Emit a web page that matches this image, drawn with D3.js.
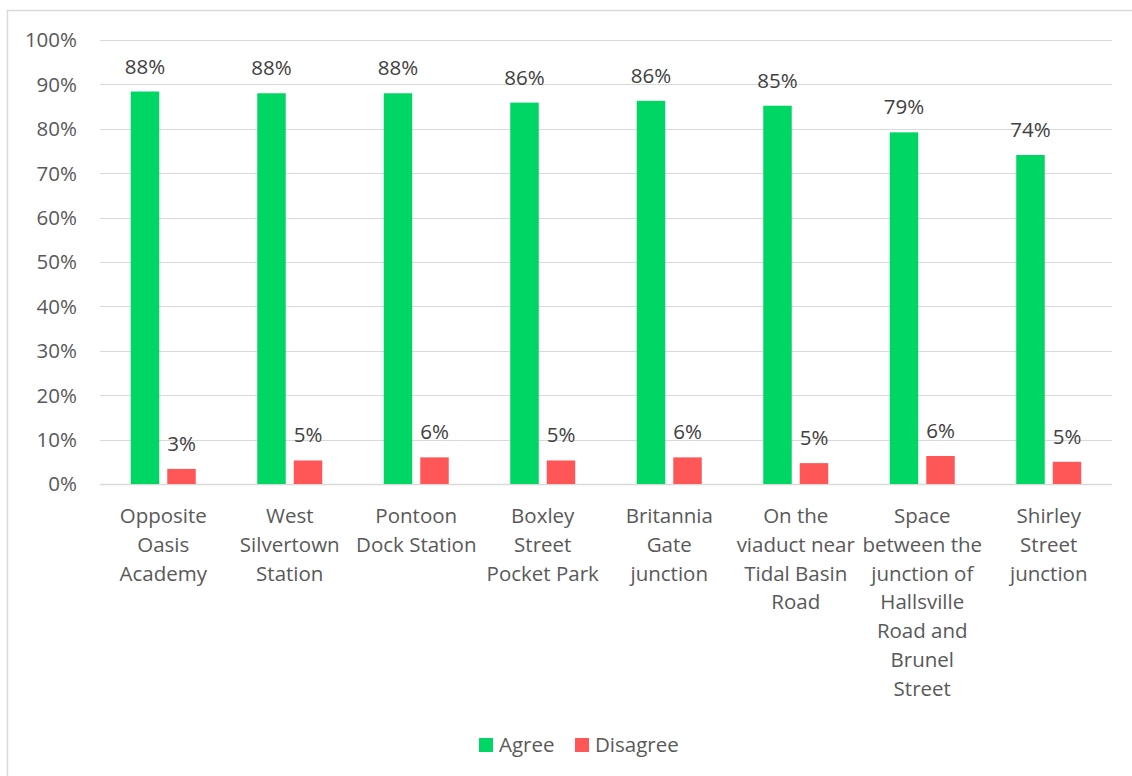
<!DOCTYPE html>
<html>
<head>
<meta charset="utf-8">
<script src="https://cdn.jsdelivr.net/npm/d3@7"></script>
<style>
  body { margin: 0; background: #fff; }
  svg { display: block; font-family: "Open Sans", sans-serif; }
</style>
</head>
<body>
<svg id="chart" width="1132" height="776"></svg>
<script>
// chart values
var categories = [
  ["Opposite", "Oasis", "Academy"],
  ["West", "Silvertown", "Station"],
  ["Pontoon", "Dock Station"],
  ["Boxley", "Street", "Pocket Park"],
  ["Britannia", "Gate", "junction"],
  ["On the", "viaduct near", "Tidal Basin", "Road"],
  ["Space", "between the", "junction of", "Hallsville", "Road and", "Brunel", "Street"],
  ["Shirley", "Street", "junction"]
];
var agree = [88.4, 88.0, 88.0, 85.9, 86.3, 85.2, 79.2, 74.1];
var disagree = [3.4, 5.3, 6.0, 5.3, 6.0, 4.7, 6.3, 5.0];
var seriesNames = ["Agree", "Disagree"];
var seriesColors = ["#00d664", "#ff5757"];
var yTicks = [0, 10, 20, 30, 40, 50, 60, 70, 80, 90, 100];

var svg = d3.select("#chart");

// outer chart border
svg.append("rect")
  .attr("x", 7.5).attr("y", 10.5)
  .attr("width", 1140).attr("height", 780)
  .attr("fill", "none")
  .attr("stroke", "#d9d9d9")
  .attr("stroke-width", 1.5);

var plotLeft = 100, plotRight = 1112, plotTop = 40, plotBottom = 484;

var y = d3.scaleLinear().domain([0, 100]).range([plotBottom, plotTop]);
var x = d3.scaleBand().domain(d3.range(categories.length)).range([plotLeft, plotRight]);
var bw = x.bandwidth();
var xSub = d3.scaleBand().domain(seriesNames)
  .range([bw / 2 - 32.5, bw / 2 + 32.5]).paddingInner(0.22);

// gridlines
svg.append("g").selectAll("line")
  .data(yTicks).enter()
  .append("line")
  .attr("x1", plotLeft).attr("x2", plotRight)
  .attr("y1", d => Math.round(y(d)) + 0.5)
  .attr("y2", d => Math.round(y(d)) + 0.5)
  .attr("stroke", "#d9d9d9")
  .attr("stroke-width", d => d == 0 ? 1.5 : 1);

// y axis labels
svg.append("g").selectAll("text")
  .data(yTicks).enter()
  .append("text")
  .attr("x", 77)
  .attr("y", d => y(d))
  .attr("dy", "0.36em")
  .attr("text-anchor", "end")
  .attr("font-size", 20.5)
  .attr("fill", "#595959")
  .text(d => d + "%");

var rows = categories.map((c, i) => ({ i: i, vals: [agree[i], disagree[i]] }));

var groups = svg.append("g").selectAll("g")
  .data(rows).enter()
  .append("g")
  .attr("transform", d => "translate(" + x(d.i) + ",0)");

groups.selectAll("rect")
  .data(d => d.vals.map((v, k) => ({ k: k, v: v }))).enter()
  .append("rect")
  .attr("x", d => xSub(seriesNames[d.k]))
  .attr("width", xSub.bandwidth())
  .attr("y", d => y(d.v))
  .attr("height", d => y(0) - y(d.v))
  .attr("fill", d => seriesColors[d.k]);

groups.selectAll("text.val")
  .data(d => d.vals.map((v, k) => ({ k: k, v: v }))).enter()
  .append("text")
  .attr("class", "val")
  .attr("x", d => xSub(seriesNames[d.k]) + xSub.bandwidth() / 2)
  .attr("y", d => y(d.v) - 18)
  .attr("text-anchor", "middle")
  .attr("font-size", 20.5)
  .attr("fill", "#404040")
  .text(d => Math.round(d.v) + "%");

// category labels, wrapped as in the picture
svg.append("g").selectAll("text")
  .data(categories).enter()
  .append("text")
  .attr("text-anchor", "middle")
  .attr("font-size", 20.5)
  .attr("fill", "#595959")
  .each(function (lines, i) {
    d3.select(this).selectAll("tspan")
      .data(lines).enter()
      .append("tspan")
      .attr("x", x(i) + bw / 2)
      .attr("y", (d, j) => 523 + j * 28.8)
      .text(d => d);
  });

// legend
var legend = svg.append("g");
var legendX = [479, 575];
seriesNames.forEach(function (name, k) {
  legend.append("rect")
    .attr("x", legendX[k]).attr("y", 738)
    .attr("width", 14).attr("height", 14)
    .attr("fill", seriesColors[k]);
  legend.append("text")
    .attr("x", legendX[k] + 20).attr("y", 745)
    .attr("dy", "0.36em")
    .attr("font-size", 20.5)
    .attr("fill", "#595959")
    .text(name);
});
</script>
</body>
</html>
